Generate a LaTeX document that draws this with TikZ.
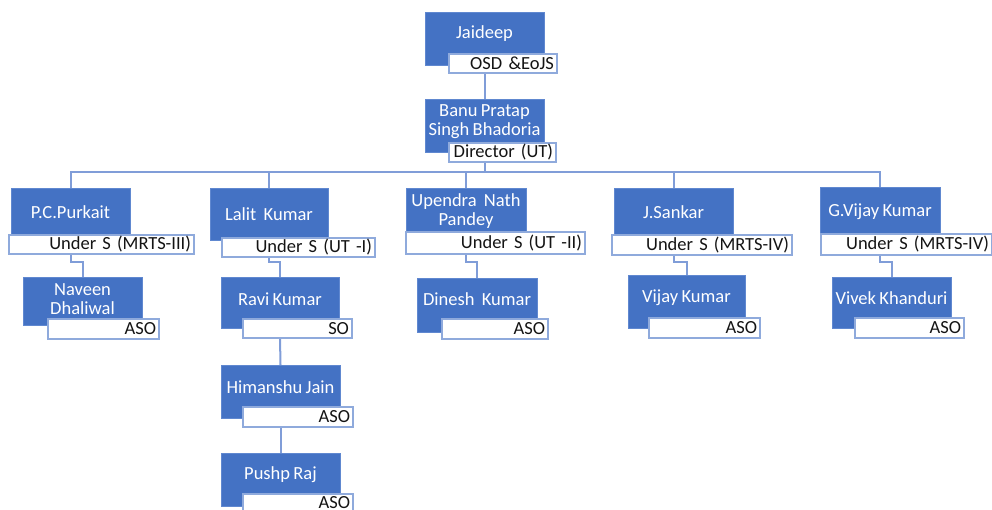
\documentclass[tikz,border=0pt]{standalone}
\usepackage{fontspec}
\setmainfont{Carlito}
\usetikzlibrary{backgrounds}

\definecolor{boxblue}{RGB}{68,114,196}
\definecolor{boxedge}{RGB}{96,136,208}
\definecolor{roleedge}{RGB}{143,170,220}
\definecolor{linkblue}{RGB}{128,157,216}
\definecolor{roletext}{RGB}{20,20,20}

% chart lettering: 18.5pt with slightly narrower word spaces
\newcommand\chartfont{\fontsize{18.5}{19}\selectfont\spaceskip 0.18em\relax}

\tikzset{
  x=1pt, y=-1pt,
  bluebox/.style={draw=boxedge, line width=0.8pt, fill=boxblue, inner sep=0pt, outer sep=0pt, anchor=north west},
  rolebox/.style={draw=roleedge, line width=1.4pt, fill=white, inner xsep=2pt, inner ysep=0pt, outer sep=0pt,
    anchor=north west, align=right, text=roletext, font=\chartfont},
  nametext/.style={text=white, align=center, inner sep=0pt, font=\chartfont},
  link/.style={draw=linkblue, line width=2pt},
}

\begin{document}
\begin{tikzpicture}
\useasboundingbox (0,0) rectangle (992,510);
\clip (0,0) rectangle (992,510);

% id / blue box corners / title box corners / name / title
\foreach \id/\ax/\ay/\bx/\by/\cx/\cy/\dx/\dy/\nm/\rl in {
  jd/425/12/544/65/449/54/557/73/{Jaideep}/{OSD \&EoJS},
  bp/425/99/544/152/449/143/556/162/{Banu Pratap\\Singh Bhadoria}/{Director (UT)},
  pc/11/188/130/235/9/235/194/254/{P.C.Purkait}/{Under S (MRTS-III)},
  lk/210/188/328/240/222/238/375/257/{Lalit\hspace{4pt} Kumar}/{Under S (UT -I)},
  un/406/188/526/232/406/232/585/254/{Upendra\hspace{4pt} Nath\\Pandey}/{Under S (UT -II)},
  js/614/188/733/236/612/235/792/255/{J.Sankar}/{Under S (MRTS-IV)},
  gv/820/187/940/235/821/234/992/255/{G.Vijay Kumar}/{Under S (MRTS-IV)},
  nd/23/277/142/325/48/319/159/339/{Naveen\\Dhaliwal}/{ASO},
  rk/221/277/339/328/243/319/352/338/{Ravi Kumar}/{SO},
  hj/221/365/340/418/243/407/353/427/{Himanshu Jain}/{ASO},
  pr/221/453/340/506/243/494/353/511/{Pushp Raj}/{ASO},
  dk/417/278/537/332/442/319/548/339/{Dinesh\hspace{4pt} Kumar}/{ASO},
  vk/628/275/745/328/649/318/760/338/{Vijay Kumar}/{ASO},
  vh/832/277/951/328/855/318/964/338/{Vivek Khanduri}/{ASO}}{
  \pgfmathsetmacro\bw{\bx-\ax}
  \pgfmathsetmacro\bh{\by-\ay}
  \pgfmathsetmacro\rw{\dx-\cx}
  \pgfmathsetmacro\rh{\dy-\cy}
  \pgfmathsetmacro\tw{\dx-\cx-6}
  \pgfmathsetmacro\tx{(\ax+\bx)/2}
  \pgfmathsetmacro\ty{(\ay+\cy)/2+1}
  \node[bluebox, minimum width=\bw pt, minimum height=\bh pt] (\id) at (\ax,\ay) {};
  \node[nametext] (\id-n) at (\tx,\ty) {\nm};
  \node[rolebox, minimum width=\rw pt, minimum height=\rh pt, text width=\tw pt] (\id-r) at (\cx,\cy) {\rl};
}

\coordinate (bus) at (0,172);
\coordinate (elbow) at (0,262);

\begin{pgfonlayer}{background}
  % top of the chart
  \draw[link] (jd-r.south -| jd.south) -- (bp.north);
  \draw[link] (bp-r.south -| bp.south) -- (bp.south |- bus);
  % horizontal bus to the five sections
  \draw[link] (pc.north) -- (pc.north |- bus) -- (gv.north |- bus) -- (gv.north);
  \foreach \s in {lk,un,js}
    \draw[link] (\s.north) -- (\s.north |- bus);
  % section heads to their staff
  \foreach \p/\c in {pc/nd, lk/rk, un/dk, js/vk, gv/vh}
    \draw[link] (\p-r.south -| \p.south) -- (\p.south |- elbow) -| (\c.north);
  \draw[link] (rk-r.south -| rk.south) -- (hj.north);
  \draw[link] (hj-r.south -| hj.south) -- (pr.north);
\end{pgfonlayer}
\end{tikzpicture}
\end{document}
